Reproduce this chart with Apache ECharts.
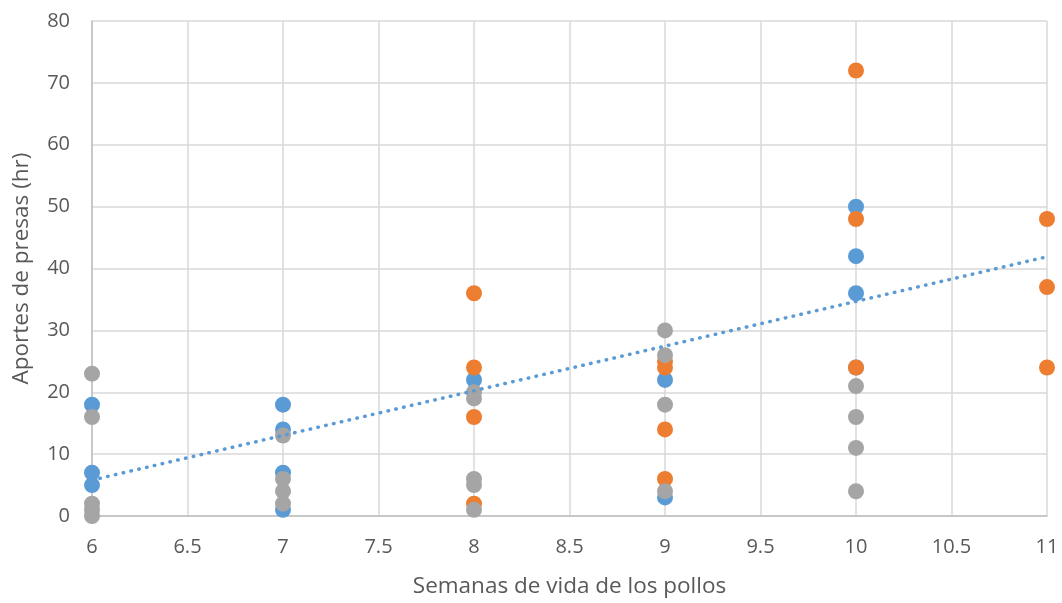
<!DOCTYPE html>
<html><head><meta charset="utf-8">
<script src="https://cdn.jsdelivr.net/npm/echarts@6/dist/echarts.min.js"></script>
<style>html,body{margin:0;padding:0;background:#fff;overflow:hidden}#c{width:1062px;height:603px}</style>
</head><body><div id="c"></div>
<script>
const xTicks = [6, 6.5, 7, 7.5, 8, 8.5, 9, 9.5, 10, 10.5, 11];
const yTicks = [0, 10, 20, 30, 40, 50, 60, 70, 80];
const seriesBlue = [[6,18],[6,7],[6,5],[7,18],[7,14],[7,7],[7,1],[8,22],[9,22],[9,3],[10,50],[10,42],[10,36],[10,24]];
const seriesOrange = [[8,36],[8,24],[8,16],[8,2],[9,25],[9,24],[9,14],[9,6],[10,72],[10,48],[10,24],[11,48],[11,37],[11,24]];
const seriesGray = [[6,23],[6,16],[6,2],[6,1],[6,0],[7,13],[7,6],[7,4],[7,2],[8,20],[8,19],[8,6],[8,5],[8,1],[9,30],[9,26],[9,18],[9,4],[10,21],[10,16],[10,11],[10,4]];
const trendBlue = [[6,5.8],[11,41.9]];

const font = '"Open Sans", "Noto Sans", sans-serif';
const chart = echarts.init(document.getElementById('c'), null, {width: 1062, height: 603});
const sym = 16;
chart.setOption({
  animation: false,
  grid: {left: 92, width: 955, top: 21, height: 498, containLabel: false},
  xAxis: {
    type: 'value', min: 6, max: 11, interval: 0.5,
    name: 'Semanas de vida de los pollos', nameLocation: 'middle', nameGap: 59,
    nameTextStyle: {color: '#595959', fontSize: 22.5, fontFamily: font},
    axisLine: {show: true, lineStyle: {color: '#BFBFBF', width: 1.5}},
    axisTick: {show: false},
    axisLabel: {color: '#595959', fontSize: 20, fontFamily: font, margin: 21},
    splitLine: {show: true, lineStyle: {color: '#D9D9D9', width: 1.5}}
  },
  yAxis: {
    type: 'value', min: 0, max: 80, interval: 10,
    name: 'Aportes de presas (hr)', nameLocation: 'middle', nameGap: 59, nameRotate: 90,
    nameTextStyle: {color: '#595959', fontSize: 22.5, fontFamily: font},
    axisLine: {show: true, lineStyle: {color: '#BFBFBF', width: 1.5}},
    axisTick: {show: false},
    axisLabel: {color: '#595959', fontSize: 20, fontFamily: font, margin: 22},
    splitLine: {show: true, lineStyle: {color: '#D9D9D9', width: 1.5}}
  },
  series: [
    {type: 'scatter', data: seriesBlue, symbolSize: sym, itemStyle: {color: '#5B9BD5', opacity: 1}, z: 3},
    {type: 'scatter', data: seriesOrange, symbolSize: sym, itemStyle: {color: '#ED7D31', opacity: 1}, z: 4},
    {type: 'scatter', data: seriesGray, symbolSize: sym, itemStyle: {color: '#A5A5A5', opacity: 1}, z: 5},
    {type: 'line', data: trendBlue, showSymbol: false, symbol: 'none', lineStyle: {color: '#5B9BD5', width: 3.5, type: [0.5, 7.5], cap: 'round'}, z: 6}
  ]
});
</script></body></html>
